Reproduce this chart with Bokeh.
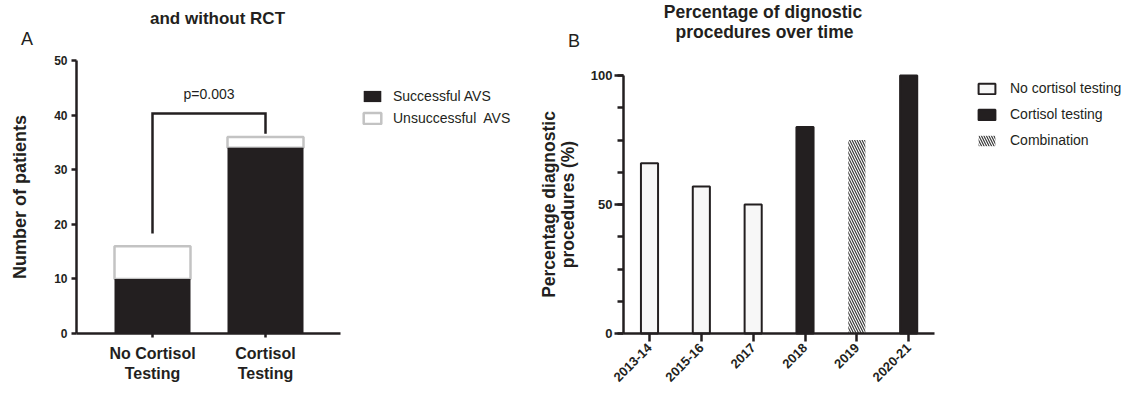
import math
from bokeh.plotting import figure
from bokeh.models import (ColumnDataSource, Range1d, FixedTicker,
                          Label, Legend, LegendItem)
from bokeh.layouts import row
from bokeh.embed import file_html
from bokeh.resources import INLINE

FONT = "Liberation Sans"
INK = "#231f20"
GREY = "#c3c3c3"

# ---------------- Panel A data ----------------
groups_a = ["No Cortisol\nTesting", "Cortisol\nTesting"]
successful_avs = [10, 34]
unsuccessful_avs = [6, 2]
legend_a = ["Successful AVS", "Unsuccessful  AVS"]
p_value_text = "p=0.003"
bracket_heights = [18.3, 40.3, 40.3, 36.6]
p_label_y = 43.9
yticks_a = [0, 10, 20, 30, 40, 50]
title_a = "and without RCT"

# ---------------- Panel B data ----------------
periods = ["2013-14", "2015-16", "2017", "2018", "2019", "2020-21"]
percent_diag = [66, 57, 50, 80, 75, 100]
method = ["No cortisol testing", "No cortisol testing", "No cortisol testing",
          "Cortisol testing", "Combination", "Cortisol testing"]
method_order = ["No cortisol testing", "Cortisol testing", "Combination"]
yticks_b = [0, 50, 100]
yminor_b = [0, 12.5, 25, 37.5, 50, 62.5, 75, 87.5, 100]
title_b = ["Percentage of dignostic", "procedures over time"]

H = 392
WA, WB = 520, 612


class Geo:
    """Maps canvas pixels of one figure (frame == whole canvas) to data."""
    def __init__(self, x0_px, x_unit, y0_px, y_unit, width):
        self.x0, self.xu, self.y0, self.yu, self.w = x0_px, x_unit, y0_px, y_unit, width

    def x(self, px):
        return (px - self.x0) / self.xu

    def y(self, py):
        return (self.y0 - py) / self.yu

    def ranges(self):
        return Range1d(self.x(0), self.x(self.w)), Range1d(self.y(H), self.y(0))


def style_axes(p):
    p.outline_line_color = None
    p.background_fill_color = "white"
    p.border_fill_color = "white"
    p.xgrid.visible = False
    p.ygrid.visible = False
    for ax in (p.xaxis[0], p.yaxis[0]):
        ax.axis_line_color = INK
        ax.axis_line_width = 2.5
        ax.major_tick_line_color = INK
        ax.major_tick_line_width = 2.5
        ax.minor_tick_line_color = INK
        ax.minor_tick_line_width = 2.5
        ax.major_tick_in = 0
        ax.minor_tick_in = 0
        ax.major_label_text_font = FONT
        ax.major_label_text_font_style = "bold"
        ax.major_label_text_color = INK
        ax.axis_label_text_font = FONT
        ax.axis_label_text_font_style = "bold"
        ax.axis_label_text_color = INK


def text(p, x, y, s, size, bold=False, align="center"):
    p.add_layout(Label(x=x, y=y, text=s, text_font=FONT, text_font_size=size,
                       text_font_style="bold" if bold else "normal",
                       text_align=align, text_baseline="alphabetic",
                       text_color=INK))


# ================= Panel A =================
ga = Geo(x0_px=152, x_unit=113.0, y0_px=333, y_unit=273.0 / 50, width=WA)
xr_a, yr_a = ga.ranges()
pos_a = list(range(len(groups_a)))
totals = [s + u for s, u in zip(successful_avs, unsuccessful_avs)]
src_a = ColumnDataSource(dict(x=pos_a, succ=successful_avs, tot=totals))
bar_w_a = 76 / 113.0

pa = figure(width=WA, height=H, x_range=xr_a, y_range=yr_a, title=None,
            output_backend="svg", toolbar_location=None,
            min_border=0, min_border_left=0, min_border_right=0,
            min_border_top=0, min_border_bottom=0)
style_axes(pa)

r_uns = pa.vbar(x="x", bottom="succ", top="tot", width=bar_w_a, source=src_a,
                fill_color="white", line_color=GREY, line_width=2.5)
r_suc = pa.vbar(x="x", top="succ", width=bar_w_a, source=src_a,
                fill_color=INK, line_color=None)
pa.line(x=[pos_a[0], pos_a[0], pos_a[1], pos_a[1]],
        y=bracket_heights, line_color=INK, line_width=2.5, line_join="miter")
text(pa, (pos_a[0] + pos_a[1]) / 2, p_label_y, p_value_text, "14px")

ya = pa.yaxis[0]
ya.fixed_location = ga.x(76)
ya.ticker = FixedTicker(ticks=yticks_a, minor_ticks=[])
ya.bounds = (yticks_a[0], yticks_a[-1])
ya.major_tick_out = 5
ya.major_label_standoff = 4
ya.major_label_text_font_size = "12px"
ya.axis_label = "Number of patients"
ya.axis_label_text_font_size = "18px"
ya.axis_label_standoff = 21

xa = pa.xaxis[0]
xa.fixed_location = 0
xa.ticker = FixedTicker(ticks=pos_a, minor_ticks=[])
xa.major_label_overrides = {i: g for i, g in zip(pos_a, groups_a)}
xa.bounds = (ga.x(76), ga.x(340))
xa.major_tick_out = 4
xa.major_label_standoff = 7
xa.major_label_text_font_size = "16px"
xa.major_label_text_line_height = 1.2

leg_a = Legend(items=[LegendItem(label=legend_a[0], renderers=[r_suc]),
                      LegendItem(label=legend_a[1], renderers=[r_uns])],
               location=(361, H - 126), padding=0, margin=0, spacing=6,
               glyph_width=22, glyph_height=14, label_height=14,
               label_standoff=10, label_text_font=FONT,
               label_text_font_size="14px", label_text_color=INK,
               border_line_color=None, background_fill_alpha=0)
pa.add_layout(leg_a, "center")

text(pa, ga.x(217), ga.y(17.5), title_a, "17px", bold=True)
text(pa, ga.x(26.5), ga.y(38.5), "A", "18px")

# ================= Panel B =================
gb = Geo(x0_px=649 - WA, x_unit=311.0 / 6, y0_px=333, y_unit=258.0 / 100, width=WB)
xr_b, yr_b = gb.ranges()
pos_b = list(range(len(periods)))
fill_map = {"No cortisol testing": "#f7f7f7", "Cortisol testing": INK,
            "Combination": "white"}
hatch_map = {"No cortisol testing": " ", "Cortisol testing": " ",
             "Combination": "\\"}
lalpha_map = {"No cortisol testing": 1.0, "Cortisol testing": 1.0,
              "Combination": 0.0}
src_b = ColumnDataSource(dict(
    x=pos_b, pct=percent_diag, method=method,
    fill=[fill_map[m] for m in method],
    hatch=[hatch_map[m] for m in method],
    la=[lalpha_map[m] for m in method]))

pb = figure(width=WB, height=H, x_range=xr_b, y_range=yr_b, title=None,
            output_backend="svg", toolbar_location=None,
            min_border=0, min_border_left=0, min_border_right=0,
            min_border_top=0, min_border_bottom=0)
style_axes(pb)

r_b = pb.vbar(x="x", top="pct", width=0.33, source=src_b,
              fill_color="fill", line_color=INK, line_alpha="la", line_width=2,
              hatch_pattern="hatch", hatch_color="#3a3a3a", hatch_scale=5,
              hatch_weight=1.2)

yb = pb.yaxis[0]
yb.fixed_location = gb.x(623 - WA)
yb.ticker = FixedTicker(ticks=yticks_b, minor_ticks=yminor_b)
yb.bounds = (yticks_b[0], yticks_b[-1])
yb.major_tick_out = 9
yb.minor_tick_out = 6
yb.major_label_standoff = 2
yb.major_label_text_font_size = "13px"
yb.axis_label = "Percentage diagnostic\nprocedures (%)"
yb.axis_label_text_font_size = "17.5px"
yb.axis_label_text_line_height = 0.96
yb.axis_label_standoff = 10

xb = pb.xaxis[0]
xb.fixed_location = 0
xb.ticker = FixedTicker(ticks=pos_b, minor_ticks=[])
xb.major_label_overrides = {i: t for i, t in zip(pos_b, periods)}
xb.bounds = (pos_b[0] - 0.5, pos_b[-1] + 0.5)
xb.major_tick_out = 8
xb.major_label_standoff = 4
xb.major_label_text_font_size = "13px"
xb.major_label_orientation = math.pi / 4

leg_b = Legend(items=[LegendItem(label=m, renderers=[r_b], index=method.index(m))
                      for m in method_order],
               location=(976 - WA, H - 148), padding=0, margin=0, spacing=10,
               glyph_width=21, glyph_height=13, label_height=13,
               label_standoff=13, label_text_font=FONT,
               label_text_font_size="14px", label_text_color=INK,
               border_line_color=None, background_fill_alpha=0)
pb.add_layout(leg_b, "center")

text(pb, gb.x(762.5 - WA), gb.y(11), title_b[0], "17.5px", bold=True)
text(pb, gb.x(764 - WA), gb.y(31), title_b[1], "17.5px", bold=True)
text(pb, gb.x(573.5 - WA), gb.y(40), "B", "18px")

layout = row(pa, pb)
open("out.html", "w").write(file_html(layout, INLINE))
